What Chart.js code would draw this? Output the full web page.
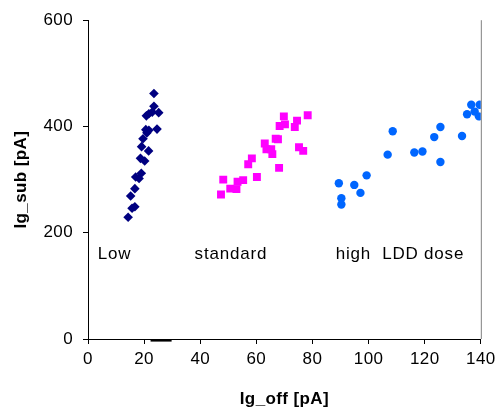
<!DOCTYPE html>
<html>
<head>
<meta charset="utf-8">
<script src="https://cdn.jsdelivr.net/npm/chart.js@4"></script>
<style>
  html, body { margin: 0; padding: 0; background: #fff; }
  #wrap { width: 500px; height: 410px; }
</style>
</head>
<body>
<div id="wrap"><canvas id="myChart" width="500" height="410"></canvas></div>
<script>
// Low dose
const lowX = [23.5, 23.5, 21.7, 22.9, 25.2, 20.8, 20.6, 21.7, 24.6, 21.0, 19.6, 21.6, 19.1, 18.7, 20.2, 19.0, 17.0, 18.2, 16.7, 15.2, 16.7, 15.7, 14.3]
const lowY = [462, 438, 424, 427, 426, 420, 394, 393, 395, 388, 377, 354, 362, 340, 335, 312, 305, 302, 283, 269, 249, 246, 229]

// standard
const stdX = [69.8, 78.3, 74.5, 68.3, 70.2, 73.7, 66.9, 67.7, 63.0, 63.6, 65.3, 65.7, 75.2, 76.7, 58.4, 57.1, 68.1, 60.2, 48.2, 55.3, 53.3, 50.7, 52.9, 47.4]
const stdY = [419, 421, 411, 401, 404, 399, 377, 376, 368, 357, 357, 348, 361, 354, 340, 329, 322, 305, 300, 299, 296, 283, 282, 272]

// high LDD dose
const highX = [108.6, 106.8, 99.3, 89.4, 94.9, 97.1, 90.3, 90.3, 116.3, 119.2, 125.6, 123.4, 125.6, 133.3, 136.6, 139.6, 135.1, 137.8, 139.3]
const highY = [391, 347, 308, 293, 290, 275, 265, 253, 351, 353, 333, 380, 399, 382, 441, 441, 423, 428, 419]

// short dash just under the x axis
const dashX = [22.3, 29.8]
const dashY = [-3, -3]

const groupLabels = ['Low', 'standard', 'high  LDD dose']
const groupLabelX = [3.5, 38, 88.3]
const groupLabelY = [160, 160, 160]

const xTicks = [0, 20, 40, 60, 80, 100, 120, 140]
const yTicks = [0, 200, 400, 600]

const FONT = '"Liberation Sans", Arial, sans-serif'

const pts = (xs, ys) => xs.map((x, i) => ({ x: x, y: ys[i] }))

const extras = {
  id: 'extras',
  beforeDraw (chart) {
    // the original text runs a little wider than plain Arial
    chart.ctx.letterSpacing = '0.4px'
  },
  afterDatasetsDraw (chart) {
    const { ctx, chartArea, scales } = chart
    ctx.save()
    // right border of plot area
    ctx.strokeStyle = '#808080'
    ctx.lineWidth = 1
    ctx.beginPath()
    ctx.moveTo(chartArea.right + 0.5, chartArea.top)
    ctx.lineTo(chartArea.right + 0.5, chartArea.bottom)
    ctx.stroke()
    // group labels
    ctx.fillStyle = '#000'
    ctx.font = '17px ' + FONT
    ctx.letterSpacing = '0.8px'
    ctx.textBaseline = 'middle'
    ctx.textAlign = 'left'
    groupLabels.forEach((t, i) => {
      ctx.fillText(t, scales.x.getPixelForValue(groupLabelX[i]), scales.y.getPixelForValue(groupLabelY[i]))
    })
    ctx.restore()
  }
}

const myChartRef = document.getElementById('myChart').getContext('2d')

new Chart(myChartRef, {
  type: 'scatter',
  data: {
    datasets: [
      {
        label: 'Low',
        data: pts(lowX, lowY),
        pointStyle: 'rectRot',
        pointRadius: 4.8,
        backgroundColor: '#000080',
        borderColor: '#000080',
        borderWidth: 0
      },
      {
        label: 'standard',
        data: pts(stdX, stdY),
        pointStyle: 'rect',
        pointRadius: 5.6,
        backgroundColor: '#ff00ff',
        borderColor: '#ff00ff',
        borderWidth: 0
      },
      {
        label: 'high LDD dose',
        data: pts(highX, highY),
        pointStyle: 'circle',
        pointRadius: 4.2,
        backgroundColor: '#0066ff',
        borderColor: '#0066ff',
        borderWidth: 0
      },
      {
        label: 'dash',
        type: 'line',
        data: pts(dashX, dashY),
        borderColor: '#000',
        borderWidth: 2,
        pointRadius: 0,
        clip: false
      }
    ]
  },
  plugins: [extras],
  options: {
    responsive: false,
    animation: false,
    events: [],
    layout: { padding: { top: 20, right: 17, left: 0, bottom: 0 } },
    plugins: {
      legend: { display: false },
      tooltip: { enabled: false }
    },
    scales: {
      x: {
        type: 'linear',
        min: 0,
        max: 140,
        afterBuildTicks: (axis) => { axis.ticks = xTicks.map(v => ({ value: v })) },
        afterFit: (axis) => { axis.height = 71 },
        border: { color: '#000', width: 1 },
        grid: { display: true, drawOnChartArea: false, drawTicks: true, tickLength: 5, color: '#000' },
        ticks: {
          color: '#000',
          padding: 5,
          maxRotation: 0,
          font: { family: FONT, size: 17 }
        },
        title: {
          display: true,
          text: 'Ig_off [pA]',
          color: '#000',
          padding: { top: 8, bottom: 0 },
          font: { family: FONT, size: 17, weight: 'bold' }
        }
      },
      y: {
        type: 'linear',
        min: 0,
        max: 600,
        afterBuildTicks: (axis) => { axis.ticks = yTicks.map(v => ({ value: v })) },
        afterFit: (axis) => { axis.width = 88 },
        border: { color: '#000', width: 1 },
        grid: { display: true, drawOnChartArea: false, drawTicks: true, tickLength: 5, color: '#000' },
        ticks: {
          color: '#000',
          padding: 10,
          font: { family: FONT, size: 17 }
        },
        title: {
          display: true,
          text: 'Ig_sub [pA]',
          color: '#000',
          padding: { top: 11, bottom: 0 },
          font: { family: FONT, size: 17, weight: 'bold' }
        }
      }
    }
  }
})
</script>
</body>
</html>
